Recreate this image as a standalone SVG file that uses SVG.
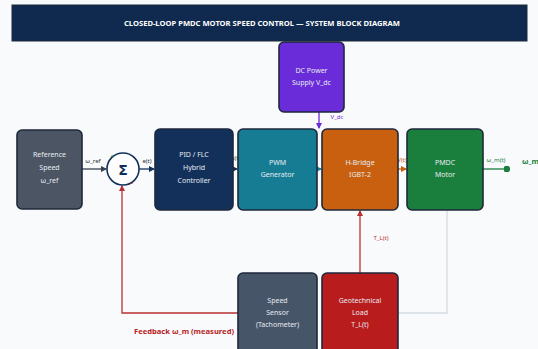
<svg xmlns="http://www.w3.org/2000/svg" width="538" height="349" viewBox="0 0 538 349">
<defs>
<style>
.box{stroke:#1e293b;stroke-width:1.6}
.nt{font-family:"Noto Sans","DejaVu Sans",sans-serif;font-size:7px;fill:#e6ebf2;text-anchor:middle}
.lb{font-family:"Noto Sans","DejaVu Sans",sans-serif;font-size:6px;text-anchor:middle}
.ln{fill:none;stroke-width:1.3}
</style>
<marker id="aG" viewBox="0 0 6 6" refX="5" refY="3" markerWidth="5" markerHeight="5" orient="auto"><path d="M0,0L6,3L0,6z" fill="#374151"/></marker>
<marker id="aN" viewBox="0 0 6 6" refX="5" refY="3" markerWidth="5" markerHeight="5" orient="auto"><path d="M0,0L6,3L0,6z" fill="#12305a"/></marker>
<marker id="aT" viewBox="0 0 6 6" refX="5" refY="3" markerWidth="5" markerHeight="5" orient="auto"><path d="M0,0L6,3L0,6z" fill="#167c94"/></marker>
<marker id="aO" viewBox="0 0 6 6" refX="5" refY="3" markerWidth="5" markerHeight="5" orient="auto"><path d="M0,0L6,3L0,6z" fill="#c8600f"/></marker>
<marker id="aGr" viewBox="0 0 6 6" refX="5" refY="3" markerWidth="5" markerHeight="5" orient="auto"><circle cx="3" cy="3" r="3" fill="#1a7f3c"/></marker>
<marker id="aR" viewBox="0 0 6 6" refX="5" refY="3" markerWidth="5" markerHeight="5" orient="auto"><path d="M0,0L6,3L0,6z" fill="#b83232"/></marker>
<marker id="aP" viewBox="0 0 6 6" refX="5" refY="3" markerWidth="5" markerHeight="5" orient="auto"><path d="M0,0L6,3L0,6z" fill="#6a2bd9"/></marker>
</defs>
<rect x="0" y="0" width="538" height="349" fill="#f8fafc"/>
<g id="title">
<rect x="12" y="5" width="515" height="36" fill="#0f2a4e" stroke="#1e293b" stroke-width="1"/>
<text x="262" y="26" font-family="Noto Sans, DejaVu Sans, sans-serif" font-size="7.6" font-weight="bold" fill="#ffffff" text-anchor="middle">CLOSED-LOOP PMDC MOTOR SPEED CONTROL — SYSTEM BLOCK DIAGRAM</text>
</g>
<g id="connectors">
<path class="ln" d="M447,210V313H398" stroke="#d5dbe3" stroke-width="1.6"/>
<path class="ln" d="M82,169H106" stroke="#374151" marker-end="url(#aG)"/>
<path class="ln" d="M139,169H154" stroke="#12305a" marker-end="url(#aN)"/>
<path class="ln" d="M233,169H237" stroke="#12305a" marker-end="url(#aN)"/>
<path class="ln" d="M317,169H321" stroke="#167c94" marker-end="url(#aT)"/>
<path class="ln" d="M398,169H406" stroke="#c8600f" marker-end="url(#aO)"/>
<path class="ln" d="M483,169H509" stroke="#1a7f3c" marker-end="url(#aGr)"/>
<path class="ln" d="M238,313H122V186" stroke="#b83232" marker-end="url(#aR)"/>
<path class="ln" d="M360,273V211" stroke="#b83232" marker-end="url(#aR)"/>
<path class="ln" d="M319,112V128" stroke="#6a2bd9" marker-end="url(#aP)"/>
<text class="lb" x="93" y="163" fill="#333">ω_ref</text>
<text class="lb" x="147" y="163" fill="#333">e(t)</text>
<text class="lb" x="235.5" y="160" fill="#333" font-size="4">u(t)</text>
<text class="lb" x="402" y="162" fill="#c8600f">V(t)</text>
<text class="lb" x="496" y="162" fill="#1a7f3c">ω_m(t)</text>
<text x="522" y="164" font-family="Noto Sans, DejaVu Sans, sans-serif" font-size="7.5" font-weight="bold" fill="#1a7f3c">ω_m</text>
<text class="lb" x="337" y="119" fill="#6a2bd9" font-size="5">V_dc</text>
<text class="lb" x="381" y="240" fill="#b83232" font-size="8">T_L(t)</text>
<text x="184" y="334" font-family="Noto Sans, DejaVu Sans, sans-serif" font-size="7.6" font-weight="bold" fill="#b91c1c" text-anchor="middle">Feedback  ω_m (measured)</text>
</g>
<g id="dc">
<rect class="box" x="279" y="42" width="65" height="70" rx="5" fill="#6a2bd9"/>
<text class="nt" x="311.5" y="73">DC Power</text>
<text class="nt" x="311.5" y="85">Supply V_dc</text>
</g>
<g id="ref">
<rect class="box" x="17" y="130" width="65" height="79" rx="5" fill="#4b5563"/>
<text class="nt" x="49.5" y="157">Reference</text>
<text class="nt" x="49.5" y="170">Speed</text>
<text class="nt" x="49.5" y="183">ω_ref</text>
</g>
<g id="sum">
<circle cx="123" cy="169" r="16" fill="#ffffff" stroke="#12305a" stroke-width="1.6"/>
<text x="123" y="174.5" font-family="DejaVu Sans, sans-serif" font-size="14" font-weight="bold" fill="#12305a" text-anchor="middle">Σ</text>
<text x="112" y="158" font-family="DejaVu Sans, sans-serif" font-size="5" font-weight="bold" fill="#1a7f3c" text-anchor="middle">+</text>
<text x="131" y="185" font-family="DejaVu Sans, sans-serif" font-size="5" font-weight="bold" fill="#b91c1c" text-anchor="middle">−</text>
</g>
<g id="pid">
<rect class="box" x="155" y="129" width="78" height="81" rx="5" fill="#12305a"/>
<text class="nt" x="194" y="157">PID / FLC</text>
<text class="nt" x="194" y="170">Hybrid</text>
<text class="nt" x="194" y="183">Controller</text>
</g>
<g id="pwm">
<rect class="box" x="238" y="129" width="79" height="81" rx="5" fill="#167c94"/>
<text class="nt" x="277.5" y="165">PWM</text>
<text class="nt" x="277.5" y="177">Generator</text>
</g>
<g id="hbridge">
<rect class="box" x="322" y="129" width="76" height="81" rx="5" fill="#c8600f"/>
<text class="nt" x="360" y="165">H-Bridge</text>
<text class="nt" x="360" y="177">IGBT-2</text>
</g>
<g id="motor">
<rect class="box" x="407" y="129" width="76" height="81" rx="5" fill="#1a7f3c"/>
<text class="nt" x="445" y="165">PMDC</text>
<text class="nt" x="445" y="177">Motor</text>
</g>
<g id="sensor">
<rect class="box" x="238" y="273" width="79" height="86" rx="5" fill="#475569"/>
<text class="nt" x="277.5" y="303">Speed</text>
<text class="nt" x="277.5" y="315">Sensor</text>
<text class="nt" x="277.5" y="327">(Tachometer)</text>
</g>
<g id="load">
<rect class="box" x="322" y="273" width="76" height="86" rx="5" fill="#b91c1c"/>
<text class="nt" x="360" y="303">Geotechnical</text>
<text class="nt" x="360" y="315">Load</text>
<text class="nt" x="360" y="327">T_L(t)</text>
</g>
</svg>
